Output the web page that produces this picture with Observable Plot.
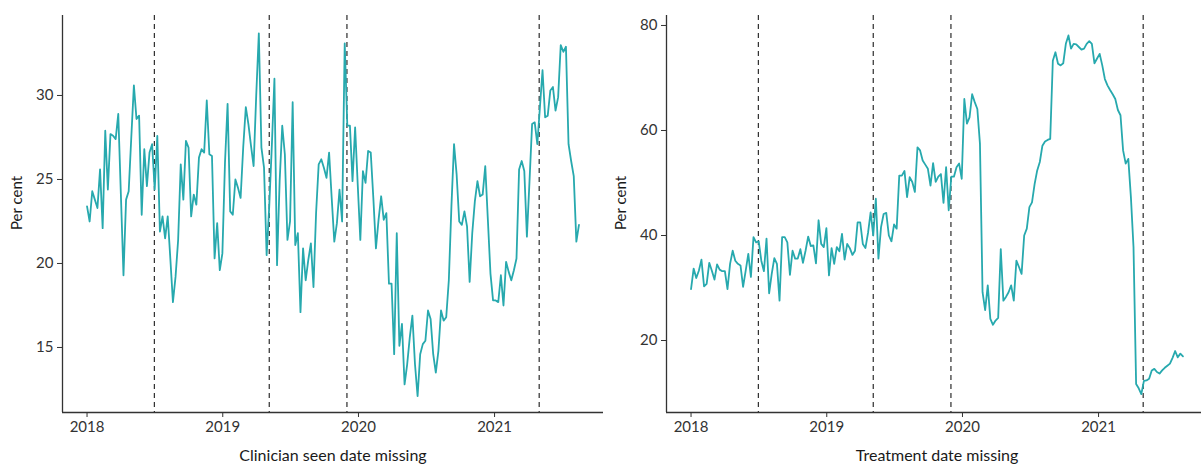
<!DOCTYPE html>
<html>
<head>
<meta charset="utf-8">
<script src="https://cdn.jsdelivr.net/npm/d3@7"></script>
<script src="https://cdn.jsdelivr.net/npm/@observablehq/plot@0.6"></script>
<style>
  html, body { margin: 0; padding: 0; background: #fff; overflow: hidden; }
  #wrap { display: flex; flex-direction: row; width: 1210px; }
  #wrap svg { display: block; }
</style>
</head>
<body>
<div id="wrap"></div>
<script>
// Weekly series, first week starting 2018-01-01
const firstWeek = "2018-01-01";

const clinicianSeenMissing = [
  23.4,22.5,24.3,23.8,23.3,25.6,22.1,27.9,24.4,27.7,
  27.6,27.4,28.9,24.1,19.3,23.8,24.3,27.5,30.6,28.6,
  28.8,22.9,26.8,24.6,26.6,27.1,24.4,27.6,21.9,22.8,
  21.5,22.8,20.3,17.7,19.2,21.4,25.9,23.8,27.3,26.9,
  22.8,24.1,23.5,26.3,26.8,26.6,29.7,26.5,26.4,20.3,
  22.4,19.6,20.6,26.0,29.5,23.1,22.9,25.0,24.5,23.9,
  26.9,29.3,28.3,27.0,25.8,30.0,33.7,26.9,25.7,20.5,
  23.4,27.0,31.0,19.9,24.9,28.2,26.5,21.4,22.5,29.6,
  21.1,21.8,17.1,20.9,19.0,20.2,21.2,18.6,23.0,25.9,
  26.2,25.7,25.1,26.6,23.9,21.3,22.4,24.4,22.5,33.1,
  28.2,28.2,24.9,28.1,24.7,21.4,25.5,24.8,26.7,26.6,
  23.9,20.9,22.6,24.0,22.6,23.0,18.8,18.8,14.6,21.8,
  15.1,16.4,12.8,14.0,15.6,16.9,14.0,12.1,14.6,15.2,
  15.4,17.2,16.7,14.6,13.5,14.8,17.2,16.6,16.8,19.0,
  23.4,27.1,25.3,22.5,22.3,23.1,22.2,18.9,21.8,23.7,
  24.9,24.0,24.1,25.8,22.6,19.4,17.8,17.8,17.7,19.3,
  17.5,20.1,19.5,19.0,19.6,20.3,25.6,26.1,25.5,21.6,
  24.9,28.3,28.4,27.1,29.3,31.5,28.7,28.8,30.3,30.5,
  29.1,29.9,33.0,32.6,32.9,27.1,26.1,25.2,21.3,22.3
];

const treatmentMissing = [
  29.8,33.7,31.9,33.3,35.4,30.3,30.8,34.8,33.3,31.6,
  34.5,33.5,33.2,33.2,29.8,34.6,37.1,35.2,34.6,34.3,
  30.2,33.3,36.5,32.1,39.7,38.7,38.9,35.2,33.2,39.4,
  29.0,32.7,35.7,34.6,27.6,39.7,39.7,38.7,32.5,37.1,
  35.6,35.6,37.4,34.8,37.1,39.8,38.0,38.1,34.7,42.9,
  38.4,37.8,41.4,32.4,37.6,34.6,37.8,37.0,40.3,35.4,
  38.4,37.6,36.3,37.1,42.5,42.5,38.4,37.6,40.5,44.4,
  40.0,47.0,35.6,41.6,44.1,44.3,40.0,38.9,42.1,41.3,
  51.4,51.4,52.3,47.3,51.1,50.2,48.3,56.8,56.2,54.3,
  53.5,52.7,49.5,53.8,50.2,51.2,51.7,46.2,53.0,44.8,
  51.2,51.2,53.0,53.7,50.8,66.0,61.3,62.5,66.9,65.4,
  64.1,57.5,29.2,25.8,30.5,24.1,23.0,23.8,24.3,37.4,
  27.6,28.3,29.2,30.5,27.6,35.2,34.0,32.7,40.0,41.3,
  45.4,46.3,49.8,52.4,54.0,57.1,57.9,58.2,58.4,73.3,
  74.9,72.7,72.4,72.8,76.5,78.1,75.6,76.5,76.4,75.9,
  75.4,75.6,76.5,77.0,76.5,72.8,73.7,74.6,72.4,69.8,
  68.6,67.7,66.9,66.0,63.9,62.9,56.2,53.7,54.6,47.3,
  37.8,11.7,10.9,9.8,12.3,12.4,12.7,14.3,14.6,14.0,
  13.7,14.3,14.8,15.2,15.6,16.7,18.0,16.8,17.5,17.0
];

// Dashed reference lines (release dates)
const releaseDates = ["2018-07-01", "2019-05-06", "2019-12-01", "2021-05-01"];

const xTickDates = ["2018-01-01", "2019-01-01", "2020-01-01", "2021-01-01"];
const leftYTicks = [15, 20, 25, 30];
const rightYTicks = [20, 40, 60, 80];
const leftTitle = "Clinician seen date missing";
const rightTitle = "Treatment date missing";
const yTitle = "Per cent";

const parse = d3.utcParse("%Y-%m-%d");
const start = parse(firstWeek);

function series(values) {
  return values.map((v, i) => ({ date: d3.utcDay.offset(start, 7 * i), value: v }));
}

// ggplot-like 5% expansion of the date range
const n = clinicianSeenMissing.length;
const lastDate = d3.utcDay.offset(start, 7 * (n - 1));
const spanDays = (lastDate - start) / 864e5;
const xDomain = [d3.utcDay.offset(start, -Math.round(spanDays * 0.05)), d3.utcDay.offset(lastDate, Math.round(spanDays * 0.05))];

const lineColor = "#27a9ae";
const axisColor = "#333333";

function panel({ values, yDomain, yTicks, title, width, marginLeft }) {
  const data = series(values);
  return Plot.plot({
    width,
    height: 464,
    marginLeft,
    marginRight: 0,
    marginTop: 15,
    marginBottom: 52,
    style: { fontFamily: "Lato, 'Noto Sans', sans-serif", fontSize: "15px", color: axisColor, background: "transparent", overflow: "visible" },
    x: { type: "utc", domain: xDomain },
    y: { domain: yDomain },
    marks: [
      Plot.ruleX(releaseDates.map(parse), { stroke: "#1a1a1a", strokeWidth: 1.1, strokeDasharray: "5,4" }),
      Plot.lineY(data, { x: "date", y: "value", stroke: lineColor, strokeWidth: 1.8, strokeLinejoin: "round" }),
      Plot.ruleX([xDomain[0]], { stroke: axisColor, strokeWidth: 1.3 }),
      Plot.ruleY([yDomain[0]], { stroke: axisColor, strokeWidth: 1.3 }),
      Plot.axisX({ ticks: xTickDates.map(parse), tickFormat: d3.utcFormat("%Y"), tickSize: 5, tickPadding: 4, label: null, fontSize: 15, stroke: axisColor, fill: axisColor }),
      Plot.axisY({ ticks: yTicks, tickSize: 5, tickPadding: 4, label: null, fontSize: 15, stroke: axisColor, fill: axisColor }),
      Plot.text([yTitle], { frameAnchor: "left", dx: -45, dy: 16, rotate: -90, text: d => d, fontSize: 15, fill: "#1a1a1a", lineAnchor: "middle" }),
      Plot.text([title], { frameAnchor: "bottom", dy: 43, text: d => d, fontSize: 16, fill: "#1a1a1a", lineAnchor: "middle" })
    ]
  });
}

const wrap = document.getElementById("wrap");
wrap.append(panel({ values: clinicianSeenMissing, yDomain: [11.13, 34.76], yTicks: leftYTicks, title: leftTitle, width: 603, marginLeft: 62 }));
wrap.append(panel({ values: treatmentMissing, yDomain: [6.29, 81.9], yTicks: rightYTicks, title: rightTitle, width: 604, marginLeft: 63 }));
</script>
</body>
</html>
